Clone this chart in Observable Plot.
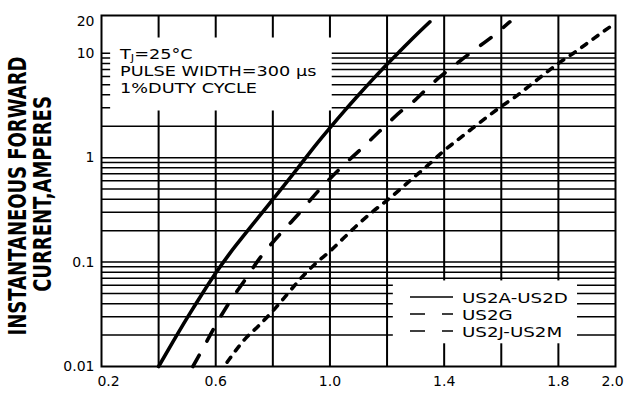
<!DOCTYPE html>
<html><head><meta charset="utf-8">
<style>html,body{margin:0;padding:0;background:#fff;} svg{display:block}</style>
<script src="https://cdn.jsdelivr.net/npm/d3@7"></script>
<script src="https://cdn.jsdelivr.net/npm/@observablehq/plot@0.6"></script>
</head><body><div id="chart"></div>
<script>
// ---- data ----
const seriesNames = ["US2A-US2D", "US2G", "US2J-US2M"];

const voltsA = [0.40,0.45,0.50,0.55,0.60,0.65,0.70,0.75,0.80,0.85,0.90,0.95,1.00,1.05,1.10,1.15,1.20,1.25,1.30,1.35];
const ampsA  = [0.010,0.0172,0.0292,0.0484,0.0785,0.122,0.182,0.269,0.398,0.589,0.881,1.32,1.93,2.79,3.98,5.62,7.85,10.8,14.8,20];

const voltsG = [0.52,0.55,0.60,0.65,0.70,0.75,0.80,0.85,0.90,0.95,1.00,1.05,1.10,1.15,1.20,1.25,1.30,1.35,1.40,1.45,1.50,1.55,1.60,1.63];
const ampsG  = [0.010,0.014,0.025,0.042,0.066,0.105,0.155,0.22,0.31,0.45,0.63,0.86,1.15,1.55,2.1,2.8,3.6,4.9,6.4,8.2,10.5,13.2,17,20];

const voltsJ = [0.64,0.65,0.70,0.75,0.80,0.85,0.90,0.95,1.00,1.05,1.10,1.15,1.20,1.25,1.30,1.35,1.40,1.45,1.50,1.55,1.60,1.65,1.70,1.75,1.80,1.85,1.90,1.95,2.00];
const ampsJ  = [0.011,0.012,0.018,0.0245,0.034,0.049,0.071,0.097,0.127,0.172,0.232,0.305,0.39,0.51,0.67,0.88,1.17,1.5,1.92,2.45,3.1,3.85,4.9,6.3,8.0,9.9,12.4,15.6,19.5];

const xTickValues = [0.6, 1.0, 1.4, 1.8];
const xEdgeTicks = [0.2, 2.0];
const yTickValues = [0.01, 0.1, 1, 10, 20];
const yTickLabels = ["0.01", "0.1", "1", "10", "20"];
const xGrid = [0.4, 0.6, 0.8, 1.0, 1.2, 1.4, 1.6, 1.8];
const yGrid = [0.02,0.03,0.04,0.05,0.06,0.07,0.08,0.09,
               0.1,0.2,0.3,0.4,0.5,0.6,0.7,0.8,0.9,
               1,2,3,4,5,6,7,8,9,10];
const conditions = ["TJ=25°C", "PULSE WIDTH=300 μs", "1%DUTY CYCLE"];
const axisTitle = ["INSTANTANEOUS FORWARD", "CURRENT,AMPERES"];

// ---- build table ----
const rows = (name, v, a) => v.map((x, i) => ({series: name, volts: x, amps: a[i]}));
const table = [
  ...rows(seriesNames[0], voltsA, ampsA),
  ...rows(seriesNames[1], voltsG, ampsG),
  ...rows(seriesNames[2], voltsJ, ampsJ)
];
const dashFor = {"US2A-US2D": null, "US2G": "13,16", "US2J-US2M": "6,8"};

// white areas that hide the grid behind the annotation and the legend
const textBox = {x1: 0.232, x2: 1.008, y1: 2.8, y2: 14};
const legendBox = {x1: 1.222, x2: 1.867, y1: 0.0165, y2: 0.066};

const font = "'DejaVu Sans', 'Liberation Sans', sans-serif";
const axisOpts = {tickSize: 0, label: null, fontSize: 14, fontFamily: font};

const plot = Plot.plot({
  width: 628, height: 396,
  marginLeft: 101, marginRight: 13, marginTop: 15, marginBottom: 30,
  style: {fontFamily: font, fontSize: "14px", color: "#000", background: "#fff", overflow: "visible"},
  x: {domain: [0.2, 2.0]},
  y: {type: "log", domain: [0.01, 23]},
  marks: [
    Plot.ruleY(yGrid, {stroke: "#000", strokeWidth: 1.5}),
    Plot.ruleX(xGrid, {stroke: "#000", strokeWidth: 2}),
    Plot.rect([textBox], {x1: "x1", x2: "x2", y1: "y1", y2: "y2", fill: "#fff"}),
    Plot.rect([legendBox], {x1: "x1", x2: "x2", y1: "y1", y2: "y2", fill: "#fff"}),
    ...seriesNames.map(name => Plot.line(table.filter(d => d.series === name), {
      x: "volts", y: "amps", stroke: "#000", strokeWidth: 3.6,
      strokeDasharray: dashFor[name], curve: "monotone-x"
    })),
    Plot.frame({stroke: "#000", strokeWidth: 2}),
    Plot.axisY(yTickValues, {...axisOpts, tickPadding: 7,
      tickFormat: d => yTickLabels[yTickValues.indexOf(d)]}),
    Plot.axisX(xTickValues, {...axisOpts, tickPadding: 10, tickFormat: d => d.toFixed(1)}),
    Plot.axisX([xEdgeTicks[0]], {...axisOpts, tickPadding: 10, dx: 7, tickFormat: d => d.toFixed(1)}),
    Plot.axisX([xEdgeTicks[1]], {...axisOpts, tickPadding: 10, dx: -3, tickFormat: d => d.toFixed(1)})
  ]
});
document.getElementById("chart").appendChild(plot);

// ---- annotations, legend and y-axis title ----
const svg = d3.select(plot);

// y-axis title (two bold rotated lines)
const titleX = [17, 42], titleY = [196, 194];
axisTitle.forEach((t, i) => {
  svg.append("text")
    .attr("transform", `translate(${titleX[i]},${titleY[i]}) rotate(-90) scale(1,1.4)`)
    .attr("text-anchor", "middle")
    .attr("y", 6.5)
    .attr("font-family", font).attr("font-weight", "bold").attr("font-size", 18)
    .attr("fill", "#000")
    .text(t);
});

// conditions text
const condBase = [59, 76, 93];
conditions.forEach((t, i) => {
  const txt = svg.append("text")
    .attr("transform", `translate(120,${condBase[i]}) scale(1.22,1)`)
    .attr("text-anchor", "start")
    .attr("font-family", font).attr("font-size", 14.5).attr("fill", "#000");
  if (i === 0) {
    txt.append("tspan").text(t[0]);
    txt.append("tspan").attr("font-size", 9.5).attr("dy", 1.5).text(t[1]);
    txt.append("tspan").attr("dy", -1.5).text(t.slice(2));
  } else {
    txt.text(t);
  }
});

// legend
const legendRowY = [297, 314, 331];
const legendDash = [null, "15,17", "15,17"];
seriesNames.forEach((name, i) => {
  svg.append("line")
    .attr("x1", 410).attr("x2", 453)
    .attr("y1", legendRowY[i]).attr("y2", legendRowY[i])
    .attr("stroke", "#000").attr("stroke-width", 1.6)
    .attr("stroke-dasharray", legendDash[i]);
  svg.append("text")
    .attr("transform", `translate(462,${legendRowY[i] + 5.5}) scale(1.26,1)`)
    .attr("text-anchor", "start")
    .attr("font-family", font).attr("font-size", 14.5).attr("fill", "#000")
    .text(name);
});
</script>
</body></html>
